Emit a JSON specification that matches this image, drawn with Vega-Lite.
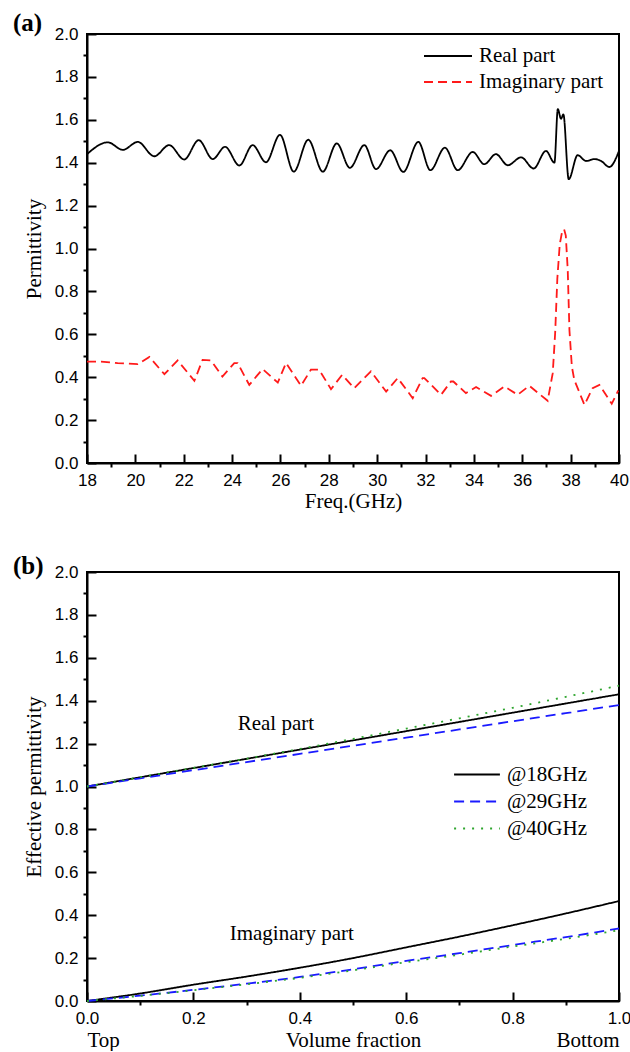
{
  "$schema": "https://vega.github.io/schema/vega-lite/v6.json",
  "padding": {"left": 12, "top": 10, "right": 0, "bottom": 0},
  "background": "white",
  "datasets": {
    "realA": [
      {"freq": 18.0, "value": 1.44, "part": "Real part"},
      {"freq": 18.86, "value": 1.495, "part": "Real part"},
      {"freq": 19.48, "value": 1.46, "part": "Real part"},
      {"freq": 20.1, "value": 1.497, "part": "Real part"},
      {"freq": 20.78, "value": 1.43, "part": "Real part"},
      {"freq": 21.4, "value": 1.482, "part": "Real part"},
      {"freq": 22.02, "value": 1.415, "part": "Real part"},
      {"freq": 22.62, "value": 1.505, "part": "Real part"},
      {"freq": 23.2, "value": 1.417, "part": "Real part"},
      {"freq": 23.71, "value": 1.474, "part": "Real part"},
      {"freq": 24.3, "value": 1.387, "part": "Real part"},
      {"freq": 24.85, "value": 1.482, "part": "Real part"},
      {"freq": 25.4, "value": 1.402, "part": "Real part"},
      {"freq": 25.98, "value": 1.53, "part": "Real part"},
      {"freq": 26.55, "value": 1.358, "part": "Real part"},
      {"freq": 27.15, "value": 1.507, "part": "Real part"},
      {"freq": 27.75, "value": 1.358, "part": "Real part"},
      {"freq": 28.33, "value": 1.49, "part": "Real part"},
      {"freq": 28.87, "value": 1.376, "part": "Real part"},
      {"freq": 29.47, "value": 1.482, "part": "Real part"},
      {"freq": 29.95, "value": 1.37, "part": "Real part"},
      {"freq": 30.54, "value": 1.458, "part": "Real part"},
      {"freq": 31.08, "value": 1.357, "part": "Real part"},
      {"freq": 31.7, "value": 1.497, "part": "Real part"},
      {"freq": 32.2, "value": 1.365, "part": "Real part"},
      {"freq": 32.8, "value": 1.47, "part": "Real part"},
      {"freq": 33.33, "value": 1.365, "part": "Real part"},
      {"freq": 33.95, "value": 1.45, "part": "Real part"},
      {"freq": 34.43, "value": 1.393, "part": "Real part"},
      {"freq": 34.91, "value": 1.44, "part": "Real part"},
      {"freq": 35.4, "value": 1.388, "part": "Real part"},
      {"freq": 35.95, "value": 1.425, "part": "Real part"},
      {"freq": 36.47, "value": 1.373, "part": "Real part"},
      {"freq": 36.98, "value": 1.455, "part": "Real part"},
      {"freq": 37.33, "value": 1.4, "part": "Real part"},
      {"freq": 37.47, "value": 1.65, "part": "Real part"},
      {"freq": 37.6, "value": 1.605, "part": "Real part"},
      {"freq": 37.7, "value": 1.625, "part": "Real part"},
      {"freq": 37.92, "value": 1.323, "part": "Real part"},
      {"freq": 38.29, "value": 1.435, "part": "Real part"},
      {"freq": 38.64, "value": 1.408, "part": "Real part"},
      {"freq": 38.98, "value": 1.417, "part": "Real part"},
      {"freq": 39.26, "value": 1.408, "part": "Real part"},
      {"freq": 39.6, "value": 1.38, "part": "Real part"},
      {"freq": 40.0, "value": 1.455, "part": "Real part"}
    ],
    "imagA": [
      {"freq": 18.0, "value": 0.473, "part": "Imaginary part"},
      {"freq": 18.58, "value": 0.473, "part": "Imaginary part"},
      {"freq": 19.27, "value": 0.466, "part": "Imaginary part"},
      {"freq": 20.1, "value": 0.461, "part": "Imaginary part"},
      {"freq": 20.58, "value": 0.494, "part": "Imaginary part"},
      {"freq": 21.2, "value": 0.414, "part": "Imaginary part"},
      {"freq": 21.75, "value": 0.478, "part": "Imaginary part"},
      {"freq": 22.44, "value": 0.383, "part": "Imaginary part"},
      {"freq": 22.78, "value": 0.481, "part": "Imaginary part"},
      {"freq": 23.13, "value": 0.478, "part": "Imaginary part"},
      {"freq": 23.6, "value": 0.403, "part": "Imaginary part"},
      {"freq": 24.09, "value": 0.466, "part": "Imaginary part"},
      {"freq": 24.23, "value": 0.466, "part": "Imaginary part"},
      {"freq": 24.71, "value": 0.364, "part": "Imaginary part"},
      {"freq": 25.26, "value": 0.438, "part": "Imaginary part"},
      {"freq": 25.89, "value": 0.375, "part": "Imaginary part"},
      {"freq": 26.23, "value": 0.466, "part": "Imaginary part"},
      {"freq": 26.85, "value": 0.36, "part": "Imaginary part"},
      {"freq": 27.26, "value": 0.435, "part": "Imaginary part"},
      {"freq": 27.6, "value": 0.435, "part": "Imaginary part"},
      {"freq": 28.09, "value": 0.344, "part": "Imaginary part"},
      {"freq": 28.55, "value": 0.411, "part": "Imaginary part"},
      {"freq": 29.05, "value": 0.349, "part": "Imaginary part"},
      {"freq": 29.74, "value": 0.427, "part": "Imaginary part"},
      {"freq": 30.37, "value": 0.333, "part": "Imaginary part"},
      {"freq": 30.85, "value": 0.396, "part": "Imaginary part"},
      {"freq": 31.47, "value": 0.302, "part": "Imaginary part"},
      {"freq": 31.88, "value": 0.396, "part": "Imaginary part"},
      {"freq": 31.95, "value": 0.396, "part": "Imaginary part"},
      {"freq": 32.64, "value": 0.318, "part": "Imaginary part"},
      {"freq": 33.05, "value": 0.38, "part": "Imaginary part"},
      {"freq": 33.15, "value": 0.38, "part": "Imaginary part"},
      {"freq": 33.67, "value": 0.326, "part": "Imaginary part"},
      {"freq": 34.09, "value": 0.354, "part": "Imaginary part"},
      {"freq": 34.71, "value": 0.313, "part": "Imaginary part"},
      {"freq": 35.26, "value": 0.357, "part": "Imaginary part"},
      {"freq": 35.81, "value": 0.318, "part": "Imaginary part"},
      {"freq": 36.29, "value": 0.36, "part": "Imaginary part"},
      {"freq": 37.05, "value": 0.29, "part": "Imaginary part"},
      {"freq": 37.26, "value": 0.419, "part": "Imaginary part"},
      {"freq": 37.36, "value": 0.606, "part": "Imaginary part"},
      {"freq": 37.45, "value": 0.86, "part": "Imaginary part"},
      {"freq": 37.55, "value": 1.02, "part": "Imaginary part"},
      {"freq": 37.65, "value": 1.08, "part": "Imaginary part"},
      {"freq": 37.73, "value": 1.09, "part": "Imaginary part"},
      {"freq": 37.8, "value": 1.06, "part": "Imaginary part"},
      {"freq": 37.88, "value": 0.9, "part": "Imaginary part"},
      {"freq": 37.95, "value": 0.62, "part": "Imaginary part"},
      {"freq": 38.05, "value": 0.45, "part": "Imaginary part"},
      {"freq": 38.15, "value": 0.388, "part": "Imaginary part"},
      {"freq": 38.57, "value": 0.271, "part": "Imaginary part"},
      {"freq": 38.91, "value": 0.349, "part": "Imaginary part"},
      {"freq": 39.19, "value": 0.364, "part": "Imaginary part"},
      {"freq": 39.7, "value": 0.276, "part": "Imaginary part"},
      {"freq": 39.97, "value": 0.338, "part": "Imaginary part"}
    ],
    "effective": [
      {"vf": 0.0, "value": 1.0, "freq": "@18GHz", "part": "Real"},
      {"vf": 0.1, "value": 1.043, "freq": "@18GHz", "part": "Real"},
      {"vf": 0.2, "value": 1.086, "freq": "@18GHz", "part": "Real"},
      {"vf": 0.3, "value": 1.129, "freq": "@18GHz", "part": "Real"},
      {"vf": 0.4, "value": 1.172, "freq": "@18GHz", "part": "Real"},
      {"vf": 0.5, "value": 1.215, "freq": "@18GHz", "part": "Real"},
      {"vf": 0.6, "value": 1.258, "freq": "@18GHz", "part": "Real"},
      {"vf": 0.7, "value": 1.301, "freq": "@18GHz", "part": "Real"},
      {"vf": 0.8, "value": 1.344, "freq": "@18GHz", "part": "Real"},
      {"vf": 0.9, "value": 1.387, "freq": "@18GHz", "part": "Real"},
      {"vf": 1.0, "value": 1.43, "freq": "@18GHz", "part": "Real"},
      {"vf": 0.0, "value": 1.0, "freq": "@29GHz", "part": "Real"},
      {"vf": 0.1, "value": 1.038, "freq": "@29GHz", "part": "Real"},
      {"vf": 0.2, "value": 1.076, "freq": "@29GHz", "part": "Real"},
      {"vf": 0.3, "value": 1.114, "freq": "@29GHz", "part": "Real"},
      {"vf": 0.4, "value": 1.152, "freq": "@29GHz", "part": "Real"},
      {"vf": 0.5, "value": 1.19, "freq": "@29GHz", "part": "Real"},
      {"vf": 0.6, "value": 1.228, "freq": "@29GHz", "part": "Real"},
      {"vf": 0.7, "value": 1.266, "freq": "@29GHz", "part": "Real"},
      {"vf": 0.8, "value": 1.304, "freq": "@29GHz", "part": "Real"},
      {"vf": 0.9, "value": 1.342, "freq": "@29GHz", "part": "Real"},
      {"vf": 1.0, "value": 1.38, "freq": "@29GHz", "part": "Real"},
      {"vf": 0.0, "value": 1.0, "freq": "@40GHz", "part": "Real"},
      {"vf": 0.1, "value": 1.043, "freq": "@40GHz", "part": "Real"},
      {"vf": 0.2, "value": 1.087, "freq": "@40GHz", "part": "Real"},
      {"vf": 0.3, "value": 1.13, "freq": "@40GHz", "part": "Real"},
      {"vf": 0.4, "value": 1.175, "freq": "@40GHz", "part": "Real"},
      {"vf": 0.5, "value": 1.222, "freq": "@40GHz", "part": "Real"},
      {"vf": 0.6, "value": 1.27, "freq": "@40GHz", "part": "Real"},
      {"vf": 0.7, "value": 1.318, "freq": "@40GHz", "part": "Real"},
      {"vf": 0.8, "value": 1.367, "freq": "@40GHz", "part": "Real"},
      {"vf": 0.9, "value": 1.418, "freq": "@40GHz", "part": "Real"},
      {"vf": 1.0, "value": 1.47, "freq": "@40GHz", "part": "Real"},
      {"vf": 0.0, "value": 0.0, "freq": "@18GHz", "part": "Imaginary"},
      {"vf": 0.1, "value": 0.035, "freq": "@18GHz", "part": "Imaginary"},
      {"vf": 0.2, "value": 0.076, "freq": "@18GHz", "part": "Imaginary"},
      {"vf": 0.3, "value": 0.114, "freq": "@18GHz", "part": "Imaginary"},
      {"vf": 0.4, "value": 0.155, "freq": "@18GHz", "part": "Imaginary"},
      {"vf": 0.5, "value": 0.2, "freq": "@18GHz", "part": "Imaginary"},
      {"vf": 0.6, "value": 0.25, "freq": "@18GHz", "part": "Imaginary"},
      {"vf": 0.7, "value": 0.3, "freq": "@18GHz", "part": "Imaginary"},
      {"vf": 0.8, "value": 0.353, "freq": "@18GHz", "part": "Imaginary"},
      {"vf": 0.9, "value": 0.408, "freq": "@18GHz", "part": "Imaginary"},
      {"vf": 1.0, "value": 0.466, "freq": "@18GHz", "part": "Imaginary"},
      {"vf": 0.0, "value": 0.0, "freq": "@29GHz", "part": "Imaginary"},
      {"vf": 0.1, "value": 0.025, "freq": "@29GHz", "part": "Imaginary"},
      {"vf": 0.2, "value": 0.052, "freq": "@29GHz", "part": "Imaginary"},
      {"vf": 0.3, "value": 0.081, "freq": "@29GHz", "part": "Imaginary"},
      {"vf": 0.4, "value": 0.112, "freq": "@29GHz", "part": "Imaginary"},
      {"vf": 0.5, "value": 0.148, "freq": "@29GHz", "part": "Imaginary"},
      {"vf": 0.6, "value": 0.187, "freq": "@29GHz", "part": "Imaginary"},
      {"vf": 0.7, "value": 0.223, "freq": "@29GHz", "part": "Imaginary"},
      {"vf": 0.8, "value": 0.261, "freq": "@29GHz", "part": "Imaginary"},
      {"vf": 0.9, "value": 0.298, "freq": "@29GHz", "part": "Imaginary"},
      {"vf": 1.0, "value": 0.338, "freq": "@29GHz", "part": "Imaginary"},
      {"vf": 0.0, "value": 0.0, "freq": "@40GHz", "part": "Imaginary"},
      {"vf": 0.1, "value": 0.024, "freq": "@40GHz", "part": "Imaginary"},
      {"vf": 0.2, "value": 0.05, "freq": "@40GHz", "part": "Imaginary"},
      {"vf": 0.3, "value": 0.078, "freq": "@40GHz", "part": "Imaginary"},
      {"vf": 0.4, "value": 0.108, "freq": "@40GHz", "part": "Imaginary"},
      {"vf": 0.5, "value": 0.143, "freq": "@40GHz", "part": "Imaginary"},
      {"vf": 0.6, "value": 0.181, "freq": "@40GHz", "part": "Imaginary"},
      {"vf": 0.7, "value": 0.216, "freq": "@40GHz", "part": "Imaginary"},
      {"vf": 0.8, "value": 0.254, "freq": "@40GHz", "part": "Imaginary"},
      {"vf": 0.9, "value": 0.29, "freq": "@40GHz", "part": "Imaginary"},
      {"vf": 1.0, "value": 0.33, "freq": "@40GHz", "part": "Imaginary"}
    ],
    "notes": [
      {"label": "Real part", "vf": 0.355, "value": 1.29},
      {"label": "Imaginary part", "vf": 0.385, "value": 0.314}
    ]
  },
  "vconcat": [
    {
      "title": {"text": "(a)", "anchor": "start", "frame": "group", "dx": -74, "offset": -11, "fontSize": 25, "fontWeight": "bold", "font": "Liberation Serif", "color": "black"},
      "width": 532,
      "height": 429,
      "resolve": {"axis": {"x": "independent", "y": "independent"}},
      "layer": [
        {
          "data": {"name": "realA"},
          "mark": {"type": "line", "interpolate": "monotone", "strokeWidth": 1.8},
          "encoding": {
            "x": {"field": "freq", "type": "quantitative",
                  "scale": {"domain": [18, 40], "nice": false, "zero": false},
                  "axis": {"orient": "bottom", "values": [18, 20, 22, 24, 26, 28, 30, 32, 34, 36, 38, 40], "tickSize": -9, "labelPadding": 18, "title": "Freq.(GHz)", "titlePadding": 2, "labelFlush": false, "labelOverlap": false}},
            "y": {"field": "value", "type": "quantitative",
                  "scale": {"domain": [0, 2], "nice": false},
                  "axis": {"orient": "left", "values": [0, 0.2, 0.4, 0.6, 0.8, 1.0, 1.2, 1.4, 1.6, 1.8, 2.0], "format": ".1f", "tickSize": -9, "labelPadding": 18, "title": "Permittivity", "titlePadding": 10, "labelFlush": false, "labelOverlap": false}},
            "color": {"field": "part", "type": "nominal",
                      "scale": {"domain": ["Real part", "Imaginary part"], "range": ["#000000", "#ff1a1a"]},
                      "legend": {"title": null, "orient": "none", "legendX": 336, "legendY": 9, "symbolType": "stroke", "symbolSize": 2300, "symbolStrokeWidth": 2, "labelFont": "Liberation Serif", "labelFontSize": 21, "labelColor": "black", "labelOffset": 6, "rowPadding": 0, "clipHeight": 26, "padding": 0}},
            "strokeDash": {"field": "part", "type": "nominal",
                           "scale": {"domain": ["Real part", "Imaginary part"], "range": [[1, 0], [9, 5]]},
                           "legend": {"title": null, "orient": "none", "legendX": 336, "legendY": 9, "symbolType": "stroke", "symbolSize": 2300, "symbolStrokeWidth": 2, "labelFont": "Liberation Serif", "labelFontSize": 21, "labelColor": "black", "labelOffset": 6, "rowPadding": 0, "clipHeight": 26, "padding": 0}}
          }
        },
        {
          "data": {"name": "imagA"},
          "mark": {"type": "line", "strokeWidth": 1.8},
          "encoding": {
            "x": {"field": "freq", "type": "quantitative", "axis": null},
            "y": {"field": "value", "type": "quantitative", "axis": null},
            "color": {"field": "part", "type": "nominal"},
            "strokeDash": {"field": "part", "type": "nominal"}
          }
        },
        {
          "data": {"name": "realA"},
          "mark": {"type": "line", "strokeOpacity": 0},
          "encoding": {
            "x": {"field": "freq", "type": "quantitative",
                  "axis": {"orient": "bottom", "values": [19, 21, 23, 25, 27, 29, 31, 33, 35, 37, 39], "tickSize": 4, "labels": false, "domain": false, "title": null}},
            "y": {"field": "value", "type": "quantitative",
                  "axis": {"orient": "left", "values": [0.1, 0.3, 0.5, 0.7, 0.9, 1.1, 1.3, 1.5, 1.7, 1.9], "tickSize": 4, "labels": false, "domain": false, "title": null}}
          }
        }
      ]
    },
    {
      "title": {"text": "(b)", "anchor": "start", "frame": "group", "dx": -74, "offset": -16, "fontSize": 25, "fontWeight": "bold", "font": "Liberation Serif", "color": "black"},
      "width": 532,
      "height": 429,
      "resolve": {"axis": {"x": "independent", "y": "independent"}},
      "layer": [
        {
          "data": {"name": "effective"},
          "mark": {"type": "line", "interpolate": "monotone", "strokeWidth": 1.8},
          "encoding": {
            "x": {"field": "vf", "type": "quantitative",
                  "scale": {"domain": [0, 1], "nice": false},
                  "axis": {"orient": "bottom", "values": [0, 0.2, 0.4, 0.6, 0.8, 1.0], "format": ".1f", "tickSize": -9, "labelPadding": 18, "title": "Volume fraction", "titlePadding": 3, "labelFlush": false, "labelOverlap": false}},
            "y": {"field": "value", "type": "quantitative",
                  "scale": {"domain": [0, 2], "nice": false},
                  "axis": {"orient": "left", "values": [0, 0.2, 0.4, 0.6, 0.8, 1.0, 1.2, 1.4, 1.6, 1.8, 2.0], "format": ".1f", "tickSize": -9, "labelPadding": 18, "title": "Effective permittivity", "titlePadding": 10, "labelFlush": false, "labelOverlap": false}},
            "detail": {"field": "part", "type": "nominal"},
            "color": {"field": "freq", "type": "nominal",
                      "scale": {"domain": ["@18GHz", "@29GHz", "@40GHz"], "range": ["#000000", "#1a1aff", "#2ea52e"]},
                      "legend": {"title": null, "orient": "none", "legendX": 366, "legendY": 189, "symbolType": "stroke", "symbolSize": 2100, "symbolStrokeWidth": 2, "labelFont": "Liberation Serif", "labelFontSize": 21, "labelColor": "black", "labelOffset": 6, "rowPadding": 0, "clipHeight": 27, "padding": 0}},
            "strokeDash": {"field": "freq", "type": "nominal",
                           "scale": {"domain": ["@18GHz", "@29GHz", "@40GHz"], "range": [[1, 0], [10, 6], [2, 7]]},
                           "legend": {"title": null, "orient": "none", "legendX": 366, "legendY": 189, "symbolType": "stroke", "symbolSize": 2100, "symbolStrokeWidth": 2, "labelFont": "Liberation Serif", "labelFontSize": 21, "labelColor": "black", "labelOffset": 6, "rowPadding": 0, "clipHeight": 27, "padding": 0}}
          }
        },
        {
          "data": {"name": "effective"},
          "mark": {"type": "line", "strokeOpacity": 0},
          "encoding": {
            "x": {"field": "vf", "type": "quantitative",
                  "axis": {"orient": "bottom", "values": [0.1, 0.3, 0.5, 0.7, 0.9], "tickSize": 4, "labels": false, "domain": false, "title": null}},
            "y": {"field": "value", "type": "quantitative",
                  "axis": {"orient": "left", "values": [0.1, 0.3, 0.5, 0.7, 0.9, 1.1, 1.3, 1.5, 1.7, 1.9], "tickSize": 4, "labels": false, "domain": false, "title": null}},
            "detail": {"field": "part", "type": "nominal"}
          }
        },
        {
          "data": {"name": "effective"},
          "mark": {"type": "line", "strokeOpacity": 0},
          "encoding": {
            "x": {"field": "vf", "type": "quantitative",
                  "axis": {"orient": "bottom", "values": [0, 1], "labelExpr": "datum.value == 0 ? 'Top' : 'Bottom'", "ticks": false, "domain": false, "title": null, "labelFlush": true, "labelPadding": 28, "labelFont": "Liberation Serif", "labelFontSize": 21}},
            "y": {"field": "value", "type": "quantitative", "axis": null},
            "detail": {"field": "part", "type": "nominal"}
          }
        },
        {
          "data": {"name": "notes"},
          "mark": {"type": "text", "font": "Liberation Serif", "fontSize": 21, "color": "black"},
          "encoding": {
            "x": {"field": "vf", "type": "quantitative", "axis": null},
            "y": {"field": "value", "type": "quantitative", "axis": null},
            "text": {"field": "label", "type": "nominal"}
          }
        }
      ]
    }
  ],
  "spacing": 41,
  "resolve": {
    "scale": {"color": "independent", "strokeDash": "independent"},
    "legend": {"color": "independent", "strokeDash": "independent"}
  },
  "config": {
    "view": {"stroke": "black", "strokeWidth": 2},
    "axis": {
      "domainColor": "black", "domainWidth": 2,
      "tickColor": "black", "tickWidth": 2,
      "labelColor": "black", "labelFont": "Liberation Sans", "labelFontSize": 17,
      "titleColor": "black", "titleFont": "Liberation Serif", "titleFontSize": 21, "titleFontWeight": "normal",
      "grid": false
    },
    "text": {"font": "Liberation Serif"}
  }
}
